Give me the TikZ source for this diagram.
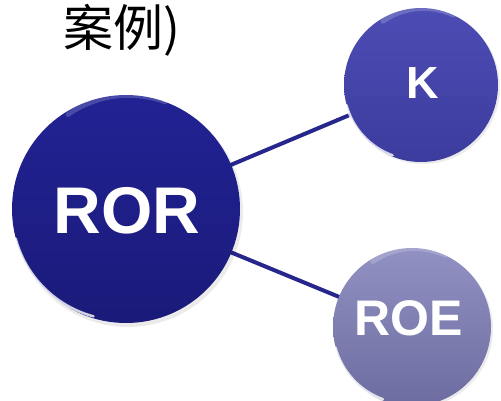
\documentclass[tikz,border=0pt]{standalone}
\usepackage{fontspec}
\setmainfont{Liberation Sans}
\newfontfamily\cjk{Noto Sans CJK SC}
\definecolor{linec}{RGB}{38,38,140}
\definecolor{rorTop}{RGB}{34,34,148}
\definecolor{rorBot}{RGB}{26,26,122}
\definecolor{kTop}{RGB}{76,76,180}
\definecolor{kBot}{RGB}{60,60,158}
\definecolor{roeTop}{RGB}{145,145,195}
\definecolor{roeBot}{RGB}{108,108,160}
\tikzset{
  ball/.style={circle, inner sep=0pt, text=white, font=\bfseries},
  link/.style={draw=linec, line width=4pt},
  rim/.style={draw=white, line width=2.5pt, line cap=round, opacity=0.8},
  shine/.style={draw=white, line width=5pt, line cap=round, opacity=0.18},
}
\begin{document}
\begin{tikzpicture}[x=1pt,y=1pt]
\useasboundingbox (0,-401) rectangle (501,0);
% title fragment
\node[anchor=base west, inner sep=0pt, font=\cjk\fontsize{50}{50}\selectfont] (title) at (63,-47) {案例)};
% connectors (drawn first, under the balls)
\coordinate (cror) at (126,-209);
\coordinate (ck) at (421,-85);
\coordinate (croe) at (412,-327);
\draw[link] (cror) -- (ck);
\draw[link] (cror) -- (croe);
% soft shadows
\fill[black, opacity=0.08] (128,-212) circle (115);
\fill[black, opacity=0.08] (423,-87) circle (77);
\fill[black, opacity=0.08] (414,-329) circle (79);
% balls
\node[ball, minimum size=228pt, top color=rorTop, bottom color=rorBot] (ror) at (cror) {};
\node[ball, minimum size=154pt, top color=kTop, bottom color=kBot] (k) at (ck) {};
\node[ball, minimum size=158pt, top color=roeTop, bottom color=roeBot] (roe) at (croe) {};
% rim highlights
\draw[rim] (ror.195) arc[start angle=195, end angle=255, radius=110];
\draw[shine] (ror.70) arc[start angle=70, end angle=125, radius=106];
\draw[rim] (k.195) arc[start angle=195, end angle=250, radius=74];
\draw[shine] (k.65) arc[start angle=65, end angle=125, radius=71];
\draw[rim] (roe.195) arc[start angle=195, end angle=250, radius=76];
\draw[shine] (roe.65) arc[start angle=65, end angle=125, radius=73];
% labels
\node[ball, font=\bfseries\fontsize{66}{66}\selectfont] (rort) at (127,-211) {ROR};
\node[ball, font=\bfseries\fontsize{45}{45}\selectfont] (kt) at (423,-83) {K};
\node[ball, font=\bfseries\fontsize{50}{50}\selectfont] (roet) at (409,-318) {ROE};
\end{tikzpicture}
\end{document}
